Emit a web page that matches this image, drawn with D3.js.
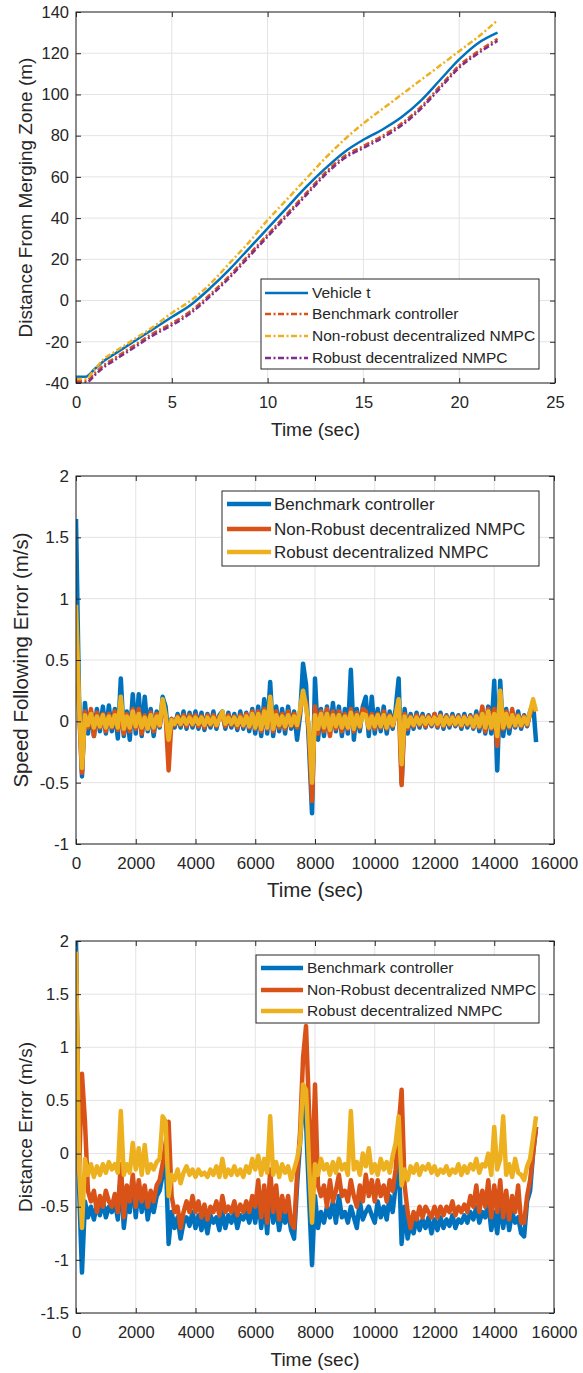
<!DOCTYPE html>
<html>
<head>
<meta charset="utf-8">
<script src="https://cdn.jsdelivr.net/npm/d3@7"></script>
<style>
  body { margin: 0; background: #fff; }
  text { font-family: "Liberation Sans", Arial, sans-serif; fill: #262626; }
</style>
</head>
<body>
<svg id="fig" width="583" height="1373"></svg>
<script>
// ---- panel 1: distance from merging zone ----
const distTime = [0, 0.5, 1, 1.5, 2, 3, 4, 5, 6, 7, 8, 9, 10, 11, 12, 13, 14, 15, 16, 17, 18, 19, 20, 21, 22];
const vehicleT   = [-37, -37, -33, -29, -26, -20, -14, -8, -2, 6, 15, 25, 35, 45, 55, 64, 72, 78, 83, 89, 97, 107, 117, 125, 130];
const benchDist  = [-39, -39, -35, -31, -28, -22, -16, -11, -5, 3, 12, 22, 32, 42, 52, 62, 70, 75, 80, 86, 94, 104, 114, 121, 127];
const nonRobDist = [-38, -38, -33, -28, -25, -19, -13, -6, 0, 8, 18, 28, 39, 49, 59, 69, 78, 86, 93, 100, 107, 114, 121, 128, 136];
const robDist    = [-40, -40, -36, -32, -29, -23, -17, -12, -6, 2, 11, 21, 31, 41, 51, 61, 69, 74, 79, 85, 93, 103, 113, 120, 126];
const p1Legend = ["Vehicle t", "Benchmark controller", "Non-robust decentralized NMPC", "Robust decentralized NMPC"];

// ---- panels 2 & 3 are sampled every 100 s ----
const sampleStep = 100;

const benchSpeed = [
  1.65, 0.20, -0.45, 0.15, -0.10, 0.08, -0.12, 0.10, -0.08, 0.12,
  -0.10, 0.13, -0.08, 0.10, -0.14, 0.35, -0.12, 0.08, -0.15, 0.22,
  -0.10, 0.22, -0.12, 0.20, -0.08, 0.10, -0.12, 0.08, -0.05, 0.20,
  0.12, -0.15, 0.02, -0.05, 0.06, -0.05, 0.08, -0.06, 0.07, -0.05,
  0.08, -0.06, 0.07, -0.07, 0.06, -0.05, 0.08, -0.06, 0.05, 0.08,
  -0.06, 0.07, -0.05, 0.06, -0.07, 0.08, -0.06, 0.07, -0.08, 0.10,
  -0.10, 0.12, -0.12, 0.18, -0.10, 0.32, -0.12, 0.12, -0.08, 0.10,
  -0.10, 0.12, -0.06, 0.08, -0.15, 0.05, 0.47, 0.30, -0.20, -0.75,
  0.35, -0.15, 0.10, -0.12, 0.12, -0.10, 0.15, -0.08, 0.12, -0.12,
  0.10, -0.10, 0.42, -0.15, 0.10, -0.08, 0.12, 0.20, -0.12, 0.20,
  -0.10, 0.10, -0.08, 0.12, -0.10, 0.08, -0.06, 0.10, 0.35, -0.50,
  0.10, -0.10, 0.06, -0.06, 0.07, -0.05, 0.06, -0.05, 0.05, -0.04,
  0.06, -0.05, 0.07, -0.06, 0.05, -0.05, 0.06, -0.04, 0.05, -0.06,
  0.06, -0.05, 0.05, -0.06, 0.08, -0.08, 0.10, -0.10, 0.12, -0.10,
  0.33, -0.40, 0.33, -0.12, 0.10, -0.10, 0.06, -0.05, 0.08, -0.06,
  0.05, -0.04, 0.08, 0.15, -0.17
];
const nonRobSpeed = [
  0.85, 0.10, -0.42, 0.08, -0.05, 0.10, -0.12, 0.07, -0.05, 0.06,
  -0.08, 0.06, -0.05, 0.08, -0.07, 0.05, -0.10, 0.06, -0.08, 0.10,
  -0.06, 0.10, -0.10, 0.05, -0.06, 0.07, -0.08, 0.06, -0.04, 0.12,
  0.05, -0.40, 0.02, -0.03, 0.04, -0.03, 0.05, -0.04, 0.05, -0.03,
  0.05, -0.04, 0.04, -0.05, 0.05, -0.03, 0.05, -0.04, 0.04, 0.05,
  -0.04, 0.05, -0.03, 0.04, -0.05, 0.05, -0.04, 0.06, -0.05, 0.08,
  -0.06, 0.08, -0.08, 0.10, -0.06, 0.12, -0.08, 0.08, -0.05, 0.06,
  -0.06, 0.08, -0.04, 0.06, -0.05, 0.08, 0.22, 0.15, -0.10, -0.65,
  0.12, -0.10, 0.08, -0.08, 0.10, -0.12, 0.08, -0.06, 0.08, -0.08,
  0.06, -0.06, 0.10, -0.08, 0.07, -0.05, 0.10, 0.08, -0.06, 0.06,
  -0.06, 0.06, -0.05, 0.08, -0.06, 0.05, -0.04, 0.06, 0.15, -0.52,
  0.06, -0.06, 0.04, -0.04, 0.05, -0.03, 0.04, -0.04, 0.04, -0.03,
  0.06, -0.04, 0.05, -0.04, 0.04, -0.03, 0.04, -0.03, 0.04, -0.04,
  0.04, -0.03, 0.04, -0.05, 0.05, -0.05, 0.12, -0.08, 0.10, -0.06,
  0.10, -0.20, 0.12, -0.06, 0.08, -0.05, 0.10, -0.04, 0.05, -0.04,
  0.04, -0.03, 0.06, 0.12, 0.10
];
const robSpeed = [
  0.95, 0.15, -0.38, 0.05, -0.03, 0.06, -0.05, 0.04, -0.04, 0.05,
  -0.05, 0.04, -0.04, 0.05, -0.05, 0.20, -0.06, 0.04, -0.05, 0.08,
  -0.04, 0.06, -0.05, 0.03, -0.06, 0.05, -0.05, 0.04, -0.03, 0.18,
  0.05, -0.15, 0.01, -0.02, 0.03, -0.02, 0.03, -0.02, 0.03, -0.02,
  0.03, -0.02, 0.03, -0.03, 0.03, -0.02, 0.03, -0.03, 0.02, 0.08,
  -0.02, 0.03, -0.02, 0.03, -0.03, 0.03, -0.03, 0.04, -0.04, 0.06,
  -0.05, 0.06, -0.06, 0.08, -0.05, 0.20, -0.06, 0.05, -0.03, 0.04,
  -0.04, 0.05, -0.03, 0.04, -0.03, 0.10, 0.25, 0.12, -0.05, -0.50,
  0.05, -0.06, 0.06, -0.05, 0.06, -0.07, 0.05, -0.04, 0.05, -0.05,
  0.04, -0.05, 0.07, -0.06, 0.05, -0.04, 0.06, 0.05, -0.05, 0.04,
  -0.04, 0.05, -0.04, 0.05, -0.05, 0.04, -0.03, 0.05, 0.18, -0.35,
  0.04, -0.04, 0.03, -0.03, 0.03, -0.02, 0.03, -0.02, 0.03, -0.02,
  0.03, -0.02, 0.04, -0.03, 0.03, -0.02, 0.03, -0.02, 0.03, -0.03,
  0.03, -0.02, 0.03, -0.04, 0.04, -0.04, 0.06, -0.05, 0.08, -0.05,
  0.06, -0.12, 0.25, -0.05, 0.06, -0.04, 0.05, -0.03, 0.04, -0.03,
  0.03, -0.02, 0.08, 0.18, 0.08
];

const benchGap = [
  2.00, -0.30, -1.12, -0.45, -0.60, -0.50, -0.62, -0.48, -0.58, -0.45,
  -0.60, -0.50, -0.55, -0.45, -0.62, -0.20, -0.70, -0.45, -0.55, -0.25,
  -0.60, -0.30, -0.55, -0.35, -0.62, -0.45, -0.55, -0.40, -0.35, -0.20,
  0.00, -0.85, -0.55, -0.70, -0.60, -0.80, -0.65, -0.60, -0.68, -0.55,
  -0.70, -0.58, -0.72, -0.60, -0.75, -0.58, -0.65, -0.60, -0.72, -0.55,
  -0.70, -0.58, -0.65, -0.55, -0.70, -0.58, -0.62, -0.55, -0.65, -0.50,
  -0.65, -0.40, -0.70, -0.45, -0.75, -0.30, -0.65, -0.50, -0.72, -0.55,
  -0.65, -0.55, -0.72, -0.80, -0.30, 0.10, 0.50, 0.30, -0.40, -1.05,
  -0.40, -0.70, -0.55, -0.65, -0.50, -0.60, -0.45, -0.65, -0.40, -0.60,
  -0.55, -0.65, -0.50, -0.60, -0.70, -0.45, -0.62, -0.55, -0.50, -0.58,
  -0.65, -0.45, -0.60, -0.50, -0.62, -0.40, -0.55, -0.30, 0.00, -0.85,
  -0.50, -0.80, -0.65, -0.75, -0.60, -0.72, -0.62, -0.70, -0.60, -0.75,
  -0.62, -0.72, -0.60, -0.70, -0.62, -0.68, -0.58, -0.70, -0.62, -0.65,
  -0.58, -0.65, -0.55, -0.62, -0.50, -0.65, -0.55, -0.60, -0.45, -0.72,
  -0.55, -0.75, -0.45, -0.70, -0.50, -0.72, -0.55, -0.65, -0.60, -0.75,
  -0.78, -0.45, -0.35, 0.00, 0.25
];
const nonRobGap = [
  1.90, -0.20, 0.75, 0.30, -0.35, -0.45, -0.35, -0.55, -0.40, -0.50,
  -0.35, -0.45, -0.50, -0.38, -0.55, -0.10, -0.60, -0.30, -0.45, -0.20,
  -0.50, -0.25, -0.45, -0.30, -0.50, -0.35, -0.45, -0.30, -0.25, -0.10,
  0.10, 0.30, -0.40, -0.55, -0.50, -0.70, -0.55, -0.45, -0.55, -0.40,
  -0.55, -0.45, -0.60, -0.48, -0.62, -0.50, -0.55, -0.45, -0.58, -0.40,
  -0.55, -0.50, -0.55, -0.45, -0.58, -0.48, -0.55, -0.45, -0.55, -0.40,
  -0.50, -0.25, -0.60, -0.30, -0.65, -0.15, -0.55, -0.30, -0.62, -0.40,
  -0.55, -0.40, -0.65, -0.70, -0.20, 0.20, 0.90, 1.20, 0.40, -0.30,
  0.65, -0.30, -0.40, -0.30, -0.50, -0.25, -0.45, -0.35, -0.20, -0.40,
  -0.35, -0.45, -0.25, -0.40, -0.50, -0.30, -0.45, -0.20, -0.40, -0.25,
  -0.45, -0.25, -0.40, -0.30, -0.45, -0.25, -0.35, -0.15, 0.25, 0.60,
  -0.30, -0.55, -0.70, -0.55, -0.62, -0.50, -0.60, -0.50, -0.55, -0.60,
  -0.50, -0.60, -0.50, -0.58, -0.50, -0.55, -0.45, -0.58, -0.50, -0.55,
  -0.48, -0.55, -0.40, -0.50, -0.30, -0.55, -0.35, -0.50, -0.25, -0.60,
  -0.30, -0.55, -0.25, -0.60, -0.35, -0.62, -0.40, -0.55, -0.30, -0.65,
  -0.65, -0.40, -0.25, 0.00, 0.25
];
const robGap = [
  1.90, -0.10, -0.70, -0.05, -0.20, -0.10, -0.22, -0.12, -0.20, -0.10,
  -0.18, -0.08, -0.15, -0.10, -0.18, 0.40, -0.20, -0.10, -0.18, 0.10,
  -0.15, 0.05, -0.20, 0.08, -0.18, -0.10, -0.15, -0.08, -0.05, 0.35,
  0.30, -0.40, -0.20, -0.25, -0.15, -0.28, -0.18, -0.12, -0.20, -0.15,
  -0.22, -0.15, -0.20, -0.18, -0.22, -0.15, -0.20, -0.12, -0.22, -0.05,
  -0.22, -0.15, -0.20, -0.12, -0.20, -0.15, -0.22, -0.12, -0.18, -0.05,
  -0.15, -0.02, -0.20, -0.05, -0.18, 0.35, -0.20, -0.08, -0.22, -0.10,
  -0.18, -0.12, -0.25, -0.15, -0.05, 0.10, 0.65, 0.60, -0.10, -0.65,
  -0.10, -0.20, -0.05, -0.15, -0.10, -0.20, -0.08, -0.18, -0.05, -0.15,
  -0.10, -0.20, 0.40, -0.15, -0.08, -0.20, 0.00, -0.12, 0.05, -0.18,
  -0.10, -0.20, -0.05, -0.15, -0.08, -0.18, -0.02, 0.10, 0.35, -0.30,
  -0.15, -0.25, -0.12, -0.18, -0.10, -0.20, -0.12, -0.15, -0.10, -0.18,
  -0.12, -0.20, -0.15, -0.18, -0.12, -0.20, -0.15, -0.18, -0.10, -0.20,
  -0.12, -0.18, -0.10, -0.15, -0.05, -0.18, -0.10, -0.12, 0.00, -0.20,
  0.25, -0.15, -0.05, 0.35, -0.20, -0.10, -0.22, -0.05, -0.18, -0.20,
  -0.25, -0.12, -0.05, 0.15, 0.35
];
const errLegend = ["Benchmark controller", "Non-Robust decentralized NMPC", "Robust decentralized NMPC"];

const blue = "#0072BD", red = "#D95319", yellow = "#EDB120", purple = "#7E2F8E";
const dashDot = "6,2.5,2,2.5";

const svg = d3.select("#fig");
svg.append("rect").attr("width", 583).attr("height", 1373).attr("fill", "#fff");

let clipId = 0;
function panel(o) {
  const x = d3.scaleLinear().domain(o.xDomain).range([o.left, o.right]);
  const y = d3.scaleLinear().domain(o.yDomain).range([o.bottom, o.top]);
  const g = svg.append("g");

  // grid
  g.append("g").selectAll("line").data(o.xTicks).join("line")
    .attr("x1", d => x(d)).attr("x2", d => x(d))
    .attr("y1", o.top).attr("y2", o.bottom)
    .attr("stroke", "#e3e3e3");
  g.append("g").selectAll("line").data(o.yTicks).join("line")
    .attr("x1", o.left).attr("x2", o.right)
    .attr("y1", d => y(d)).attr("y2", d => y(d))
    .attr("stroke", "#e3e3e3");

  // data
  const id = "clip" + (clipId++);
  g.append("clipPath").attr("id", id).append("rect")
    .attr("x", o.left).attr("y", o.top)
    .attr("width", o.right - o.left).attr("height", o.bottom - o.top);
  const lines = g.append("g").attr("clip-path", `url(#${id})`);
  o.series.forEach(s => {
    const line = d3.line()
      .x((d, i) => x(s.time ? s.time[i] : i * sampleStep))
      .y(d => y(d));
    if (o.curve) line.curve(o.curve);
    lines.append("path").datum(s.values)
      .attr("fill", "none").attr("stroke", s.color)
      .attr("stroke-width", o.width)
      .attr("stroke-linejoin", "round")
      .attr("stroke-dasharray", s.dash || null)
      .attr("d", line);
  });

  // axes, ticks pointing inward on all sides
  const ax = g.append("g").attr("transform", `translate(0,${o.bottom})`)
    .call(d3.axisBottom(x).tickValues(o.xTicks).tickFormat(d => d).tickSize(-5).tickPadding(13));
  const ay = g.append("g").attr("transform", `translate(${o.left},0)`)
    .call(d3.axisLeft(y).tickValues(o.yTicks).tickFormat(d => d).tickSize(-5).tickPadding(7));
  const at = g.append("g").attr("transform", `translate(0,${o.top})`)
    .call(d3.axisTop(x).tickValues(o.xTicks).tickFormat("").tickSize(-5));
  const ar = g.append("g").attr("transform", `translate(${o.right},0)`)
    .call(d3.axisRight(y).tickValues(o.yTicks).tickFormat("").tickSize(-5));
  [ax, ay, at, ar].forEach(a => {
    a.select(".domain").remove();
    a.selectAll("line").attr("stroke", "#262626");
    a.selectAll("text").attr("font-size", o.tickSize).attr("fill", "#262626")
      .attr("font-family", "Liberation Sans, Arial, sans-serif");
  });
  g.append("rect").attr("x", o.left).attr("y", o.top)
    .attr("width", o.right - o.left).attr("height", o.bottom - o.top)
    .attr("fill", "none").attr("stroke", "#262626");

  // labels
  g.append("text").attr("x", (o.left + o.right) / 2).attr("y", o.bottom + 46)
    .attr("dy", "0.35em").attr("text-anchor", "middle").attr("font-size", o.labelSize)
    .text("Time (sec)");
  g.append("text")
    .attr("transform", `translate(${o.yLabelX},${(o.top + o.bottom) / 2}) rotate(-90)`)
    .attr("text-anchor", "middle").attr("font-size", o.labelSize)
    .text(o.yLabel);

  // legend
  const L = o.legend;
  g.append("rect").attr("x", L.x0).attr("y", L.y0)
    .attr("width", L.x1 - L.x0).attr("height", L.y1 - L.y0)
    .attr("fill", "#fff").attr("stroke", "#262626");
  o.series.forEach((s, i) => {
    const yy = L.rows[i];
    g.append("line").attr("x1", L.lx0).attr("x2", L.lx1).attr("y1", yy).attr("y2", yy)
      .attr("stroke", s.color).attr("stroke-width", o.width)
      .attr("stroke-dasharray", s.dash || null);
    g.append("text").attr("x", L.tx).attr("y", yy).attr("dy", "0.35em")
      .attr("font-size", L.fontSize).text(s.name);
  });
}

panel({
  left: 76, right: 555, top: 12, bottom: 383,
  xDomain: [0, 25], yDomain: [-40, 140],
  xTicks: [0, 5, 10, 15, 20, 25], yTicks: [-40, -20, 0, 20, 40, 60, 80, 100, 120, 140],
  yLabel: "Distance From Merging Zone (m)", yLabelX: 32, width: 2.5,
  tickSize: 16.5, labelSize: 19,
  curve: d3.curveMonotoneX,
  series: [
    { name: p1Legend[0], time: distTime, values: vehicleT, color: blue },
    { name: p1Legend[1], time: distTime, values: benchDist, color: red, dash: dashDot },
    { name: p1Legend[2], time: distTime, values: nonRobDist, color: yellow, dash: dashDot },
    { name: p1Legend[3], time: distTime, values: robDist, color: purple, dash: dashDot }
  ],
  legend: { x0: 261, x1: 539, y0: 279, y1: 369, lx0: 265, lx1: 308, tx: 312,
            rows: [293, 314, 336, 358], fontSize: 15.5 }
});

panel({
  left: 76, right: 554, top: 476, bottom: 844,
  xDomain: [0, 16000], yDomain: [-1, 2],
  xTicks: d3.range(0, 16001, 2000), yTicks: [-1, -0.5, 0, 0.5, 1, 1.5, 2],
  yLabel: "Speed Following Error (m/s)", yLabelX: 28, width: 4.5,
  tickSize: 17, labelSize: 20.5,
  series: [
    { name: errLegend[0], values: benchSpeed, color: blue },
    { name: errLegend[1], values: nonRobSpeed, color: red },
    { name: errLegend[2], values: robSpeed, color: yellow }
  ],
  legend: { x0: 222, x1: 539, y0: 491, y1: 566, lx0: 227, lx1: 271, tx: 274,
            rows: [504, 529, 552], fontSize: 17 }
});

panel({
  left: 76, right: 554, top: 941, bottom: 1313,
  xDomain: [0, 16000], yDomain: [-1.5, 2],
  xTicks: d3.range(0, 16001, 2000), yTicks: [-1.5, -1, -0.5, 0, 0.5, 1, 1.5, 2],
  yLabel: "Distance Error (m/s)", yLabelX: 32, width: 4.5,
  tickSize: 16.5, labelSize: 19,
  series: [
    { name: errLegend[0], values: benchGap, color: blue },
    { name: errLegend[1], values: nonRobGap, color: red },
    { name: errLegend[2], values: robGap, color: yellow }
  ],
  legend: { x0: 256, x1: 539, y0: 955, y1: 1023, lx0: 261, lx1: 303, tx: 307,
            rows: [968, 990, 1011], fontSize: 15.5 }
});
</script>
</body>
</html>
